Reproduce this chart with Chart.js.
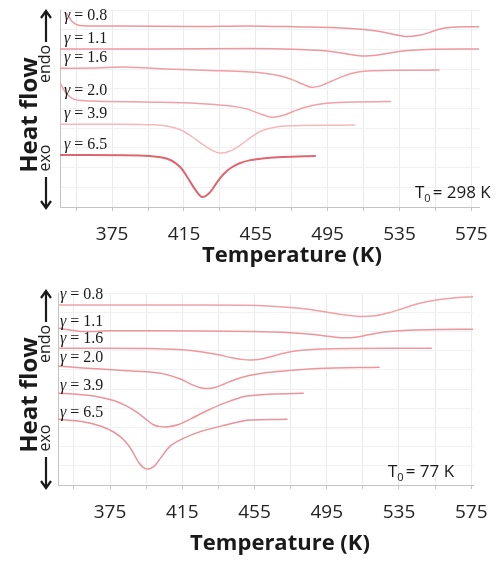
<!DOCTYPE html>
<html>
<head>
<meta charset="utf-8">
<script src="https://cdn.jsdelivr.net/npm/chart.js@4.4.1/dist/chart.umd.min.js"></script>
<style>
  body { margin: 0; background: #fff; }
  canvas { display: block; }
</style>
</head>
<body>
<canvas id="chartTop" width="500" height="280"></canvas>
<canvas id="chartBottom" width="500" height="281"></canvas>
<script>
// curvas DSC, valores (flujo de calor en unidades arbitrarias)
const gammas = ["0.8", "1.1", "1.6", "2.0", "3.9", "6.5"];
const gridT = [355, 375, 395, 415, 435, 455, 475, 495, 515, 535, 555, 575];
const labelT = [375, 415, 455, 495, 535, 575];

// T0 = 298 K
const top08T = [350, 353, 357, 365, 380, 420, 451, 480, 500, 510, 520, 527, 533, 539, 545, 551, 557, 564, 572, 579];
const top08Y = [9.80, 9.39, 9.21, 9.19, 9.19, 9.16, 9.19, 9.14, 9.10, 9.05, 8.96, 8.86, 8.74, 8.65, 8.70, 8.84, 9.02, 9.12, 9.15, 9.15];
const top11T = [346, 400, 451, 480, 492, 500, 508, 515, 522, 530, 538, 550, 579];
const top11Y = [8.02, 8.02, 8.04, 8.00, 7.94, 7.86, 7.74, 7.66, 7.70, 7.82, 7.93, 8.00, 8.02];
const top16T = [346, 365, 384, 405, 430, 450, 462, 470, 476, 481, 486, 491, 497, 503, 510, 520, 535, 557];
const top16Y = [7.04, 7.06, 7.10, 7.01, 6.93, 6.86, 6.76, 6.62, 6.44, 6.24, 6.08, 6.15, 6.38, 6.62, 6.82, 6.91, 6.94, 6.95];
const top20T = [346, 349, 353, 358, 370, 400, 423, 440, 450, 457, 464, 470, 476, 483, 492, 505, 530];
const top20Y = [6.29, 5.84, 5.50, 5.40, 5.36, 5.32, 5.26, 5.14, 4.98, 4.74, 4.56, 4.64, 4.86, 5.08, 5.24, 5.32, 5.35];
const top39T = [346, 380, 398, 406, 413, 419, 425, 431, 435, 440, 446, 452, 458, 465, 475, 495, 510];
const top39Y = [4.20, 4.20, 4.17, 4.10, 3.92, 3.60, 3.20, 2.86, 2.74, 2.82, 3.12, 3.52, 3.86, 4.04, 4.12, 4.15, 4.16];
const top65T = [346, 390, 402, 408, 413, 417, 421, 425, 429, 433, 437, 441, 446, 452, 460, 470, 488];
const top65Y = [2.64, 2.62, 2.52, 2.36, 2.02, 1.50, 0.92, 0.51, 0.70, 1.20, 1.66, 1.98, 2.22, 2.38, 2.48, 2.54, 2.59];

// T0 = 77 K
const bot08T = [347, 400, 450, 465, 480, 492, 503, 513, 522, 530, 538, 546, 555, 565, 576];
const bot08Y = [9.38, 9.38, 9.36, 9.31, 9.20, 9.05, 8.88, 8.78, 8.82, 8.98, 9.22, 9.45, 9.62, 9.74, 9.81];
const bot11T = [347, 352, 360, 375, 400, 453, 475, 488, 497, 504, 511, 518, 527, 540, 560, 576];
const bot11Y = [8.16, 8.08, 7.99, 8.03, 8.04, 7.99, 7.93, 7.84, 7.73, 7.67, 7.70, 7.82, 7.97, 8.06, 8.10, 8.11];
const bot16T = [347, 397, 415, 425, 435, 443, 449, 453, 458, 464, 471, 480, 492, 508, 553];
const bot16Y = [7.12, 7.11, 7.04, 6.94, 6.78, 6.62, 6.53, 6.51, 6.55, 6.68, 6.86, 7.00, 7.08, 7.11, 7.12];
const bot20T = [346.5, 360, 380, 397, 406, 414, 420, 425, 429, 433, 438, 444, 452, 462, 475, 490, 524];
const bot20Y = [6.20, 6.10, 5.98, 5.88, 5.76, 5.52, 5.24, 5.07, 5.03, 5.08, 5.25, 5.48, 5.70, 5.86, 5.97, 6.07, 6.13];
const bot39T = [346.5, 358, 368, 377, 384, 390, 395, 399, 403, 407, 413, 420, 428, 438, 450, 465, 482];
const bot39Y = [4.78, 4.71, 4.60, 4.40, 4.12, 3.78, 3.42, 3.14, 3.04, 3.03, 3.15, 3.46, 3.84, 4.25, 4.62, 4.74, 4.78];
const bot65T = [346.5, 360, 370, 377, 383, 387, 391, 395, 399, 403, 408, 415, 425, 437, 452, 473];
const bot65Y = [3.42, 3.30, 3.06, 2.76, 2.32, 1.82, 1.16, 0.84, 0.94, 1.40, 2.00, 2.40, 2.78, 3.08, 3.38, 3.42];

function pts(T, Y) {
  return T.map((t, i) => ({ x: t, y: Y[i] }));
}

// valor de la curva en una temperatura (para ubicar la etiqueta gamma)
function valueAt(data, t) {
  for (let i = 1; i < data.length; i++) {
    if (data[i].x >= t) {
      const a = data[i - 1], b = data[i];
      return a.y + (b.y - a.y) * (t - a.x) / (b.x - a.x);
    }
  }
  return data[data.length - 1].y;
}

function arrow(ctx, x, from, tip) {
  const d = tip < from ? 1 : -1;
  ctx.beginPath();
  ctx.moveTo(x, from);
  ctx.lineTo(x, tip);
  ctx.stroke();
  ctx.beginPath();
  ctx.moveTo(x - 5, tip + d * 7);
  ctx.lineTo(x, tip);
  ctx.lineTo(x + 5, tip + d * 7);
  ctx.stroke();
}

// textos de la figura: etiquetas gamma, eje Y, titulo X y T0
const decor = {
  id: "decor",
  afterDraw(chart, args, o) {
    const ctx = chart.ctx;
    const ys = chart.scales.y;
    const left = chart.chartArea.left;
    ctx.save();
    ctx.fillStyle = "#1a1a1a";

    // etiquetas gamma
    ctx.textBaseline = "middle";
    ctx.textAlign = "left";
    chart.data.datasets.forEach((ds) => {
      const y = ys.getPixelForValue(valueAt(ds.data, 362)) - 10;
      let x = left + o.labelDx;
      ctx.font = 'italic 16px "Liberation Serif"';
      ctx.fillText("\u03b3", x, y);
      x += ctx.measureText("\u03b3").width;
      ctx.font = '16px "Liberation Serif"';
      ctx.fillText(" = " + ds.label, x, y);
    });

    // eje Y: Heat flow, endo / exo con flechas
    ctx.save();
    ctx.translate(37, 115);
    ctx.rotate(-Math.PI / 2);
    ctx.textAlign = "center";
    ctx.textBaseline = "alphabetic";
    ctx.font = 'bold 24px "Open Sans"';
    ctx.fillText("Heat flow", 0, 0);
    ctx.restore();

    ctx.font = '16px "Open Sans"';
    ctx.textAlign = "center";
    ctx.textBaseline = "alphabetic";
    [["endo", 64], ["exo", 158]].forEach(([txt, cy]) => {
      ctx.save();
      ctx.translate(50, cy);
      ctx.rotate(-Math.PI / 2);
      ctx.fillText(txt, 0, 0);
      ctx.restore();
    });
    ctx.strokeStyle = "#1a1a1a";
    ctx.lineWidth = 2.2;
    arrow(ctx, 46, 42, 11);
    arrow(ctx, 46, 177, 208);

    // titulo del eje X
    ctx.font = 'bold 22px "Open Sans"';
    ctx.textAlign = "center";
    ctx.textBaseline = "middle";
    ctx.fillText("Temperature (K)", o.titleX, o.titleY);

    // T0
    ctx.textAlign = "left";
    ctx.font = '17px "Open Sans"';
    let x = o.t0x;
    ctx.fillText("T", x, o.t0y);
    x += ctx.measureText("T").width;
    ctx.font = '11px "Open Sans"';
    ctx.fillText("0", x, o.t0y + 6);
    x += ctx.measureText("0").width + 2;
    ctx.font = '17px "Open Sans"';
    ctx.fillText("= " + o.t0, x, o.t0y);
    ctx.restore();
  },
};

function makeChart(id, datasets, o) {
  return new Chart(document.getElementById(id), {
    type: "line",
    data: { datasets },
    plugins: [decor],
    options: {
      responsive: false,
      animation: false,
      layout: { padding: { top: o.top, right: o.right, left: 0, bottom: 0 } },
      elements: {
        point: { radius: 0 },
        line: { tension: 0.3, borderCapStyle: "round", borderJoinStyle: "round" },
      },
      plugins: {
        legend: { display: false },
        tooltip: { enabled: false },
        decor: o.decor,
      },
      scales: {
        x: {
          type: "linear",
          min: o.xMin,
          max: o.xMax,
          afterFit: (s) => { s.height = o.xHeight; },
          afterBuildTicks: (s) => { s.ticks = gridT.map((v) => ({ value: v })); },
          ticks: {
            autoSkip: false,
            maxRotation: 0,
            padding: 12,
            color: "#222",
            font: { family: "Open Sans", size: 19 },
            callback: (v) => (labelT.includes(v) ? String(v) : ""),
          },
          grid: { color: "#ebebeb", tickColor: "#c6c6c6", tickLength: 4 },
          border: { color: "#c4c4c4" },
        },
        y: {
          min: 0,
          max: 10,
          afterFit: (s) => { s.width = o.left; },
          ticks: { display: false, stepSize: 1 },
          grid: { color: "#f1f1f1", drawTicks: false },
          border: { color: "#c4c4c4" },
        },
      },
    },
  });
}

const topColors = ["#ee959c", "#ef979e", "#f09ea4", "#f0a1a7", "#f4b9bd", "#de6671"];
const botColors = ["#f0a0a6", "#ee959c", "#ef999f", "#ee959c", "#ed939a", "#ec9199"];
const topSeries = [[top08T, top08Y], [top11T, top11Y], [top16T, top16Y], [top20T, top20Y], [top39T, top39Y], [top65T, top65Y]];
const botSeries = [[bot08T, bot08Y], [bot11T, bot11Y], [bot16T, bot16Y], [bot20T, bot20Y], [bot39T, bot39Y], [bot65T, bot65Y]];

makeChart(
  "chartTop",
  topSeries.map(([T, Y], i) => ({
    label: gammas[i],
    data: pts(T, Y),
    borderColor: topColors[i],
    borderWidth: i === 5 ? 2 : 1.5,
  })),
  {
    top: 10, right: 17, left: 60, xHeight: 73, xMin: 346, xMax: 579.5,
    decor: { labelDx: 4, titleX: 292, titleY: 256, t0: "298 K", t0x: 415, t0y: 193 },
  }
);

makeChart(
  "chartBottom",
  botSeries.map(([T, Y], i) => ({
    label: gammas[i],
    data: pts(T, Y),
    borderColor: botColors[i],
    borderWidth: 1.5,
  })),
  {
    top: 13, right: 27, left: 58, xHeight: 76, xMin: 346.2, xMax: 576,
    decor: { labelDx: 2, titleX: 280, titleY: 264, t0: "77 K", t0x: 388, t0y: 192 },
  }
);
</script>
</body>
</html>
